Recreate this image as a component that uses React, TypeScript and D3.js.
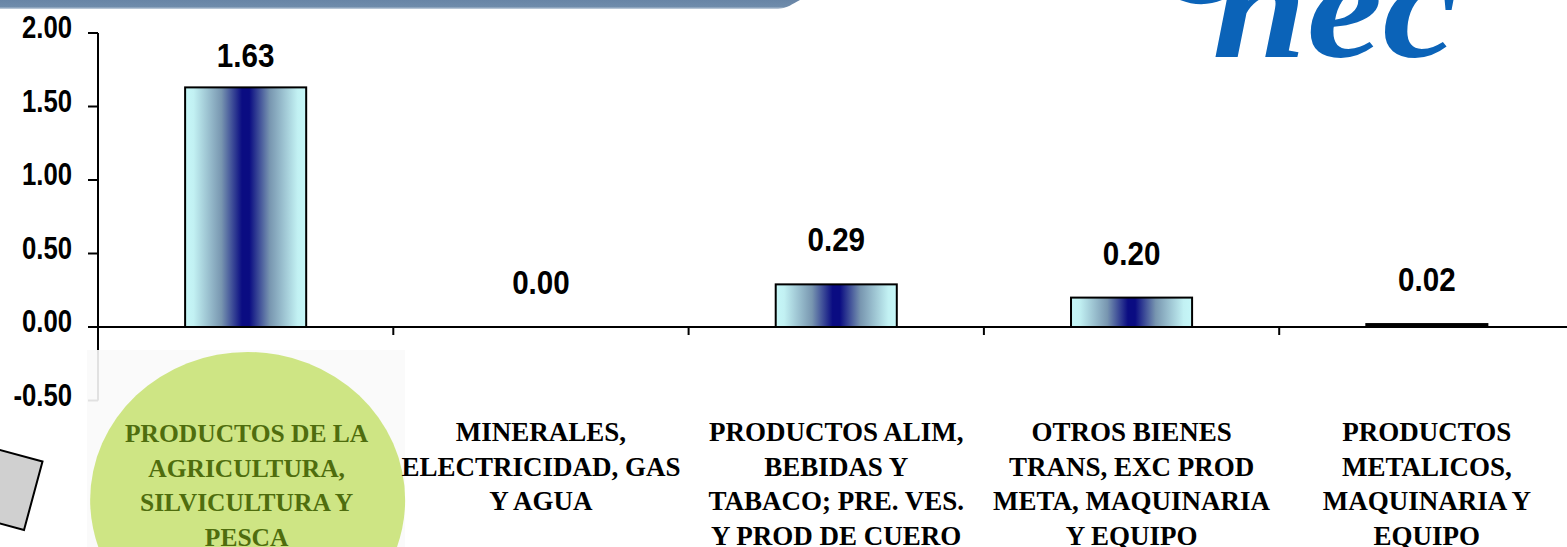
import React from "react";
import * as d3 from "d3";

const categories = [
  "PRODUCTOS DE LA AGRICULTURA, SILVICULTURA Y PESCA",
  "MINERALES, ELECTRICIDAD, GAS Y AGUA",
  "PRODUCTOS ALIM, BEBIDAS Y TABACO; PRE. VES. Y PROD DE CUERO",
  "OTROS BIENES TRANS, EXC PROD META, MAQUINARIA Y EQUIPO",
  "PRODUCTOS METALICOS, MAQUINARIA Y EQUIPO",
];
const values = [1.63, 0.0, 0.29, 0.2, 0.02];
const labelLines = [
  ["PRODUCTOS DE LA", "AGRICULTURA,", "SILVICULTURA Y", "PESCA"],
  ["MINERALES,", "ELECTRICIDAD, GAS", "Y AGUA"],
  ["PRODUCTOS  ALIM,", "BEBIDAS Y", "TABACO; PRE. VES.", "Y PROD DE CUERO"],
  ["OTROS BIENES", "TRANS, EXC PROD", "META, MAQUINARIA", "Y EQUIPO"],
  ["PRODUCTOS", "METALICOS,", "MAQUINARIA Y", "EQUIPO"],
];
const yTicks = [-0.5, 0, 0.5, 1.0, 1.5, 2.0];

const W = 1567;
const H = 547;
const X0 = 98;
const STEP = 295.3;

export default function App() {
  const x = d3
    .scaleBand<string>()
    .domain(categories)
    .range([X0, X0 + STEP * categories.length])
    .paddingInner(0.59)
    .paddingOuter(0.295);
  const y = d3.scaleLinear().domain([-0.5, 2]).range([400.5, 33]);
  const fmt = (v: number) => d3.format(".2f")(v).replace("\u2212", "-");
  const step = x.step();
  const bounds = d3.range(categories.length + 1).map((i) => X0 + i * step);

  const sans = "'Liberation Sans', Arial, sans-serif";
  const serif = "'Liberation Serif', 'Times New Roman', serif";

  return (
    <svg
      width={W}
      height={H}
      style={{ position: "absolute", left: 0, top: 0, background: "#fff" }}
    >
      <defs>
        <linearGradient id="barGrad" x1="0" x2="1" y1="0" y2="0">
          <stop offset="0" stopColor="#c6f7f8" />
          <stop offset="0.07" stopColor="#c2f1f3" />
          <stop offset="0.3" stopColor="#7896b0" />
          <stop offset="0.47" stopColor="#0a0c82" />
          <stop offset="0.53" stopColor="#0a0c82" />
          <stop offset="0.7" stopColor="#7896b0" />
          <stop offset="0.93" stopColor="#c2f1f3" />
          <stop offset="1" stopColor="#c6f7f8" />
        </linearGradient>
        <linearGradient id="banner" x1="0" x2="0" y1="0" y2="1">
          <stop offset="0" stopColor="#6885a6" />
          <stop offset="0.75" stopColor="#6f8cab" />
          <stop offset="1" stopColor="#c9d4e0" />
        </linearGradient>
      </defs>

      {/* top banner */}
      <path d="M0,0 L800,0 C792,4 788,8 778,9 L0,9 Z" fill="url(#banner)" />

      {/* logo */}
      <path d="M1180,0 C1195,6 1210,5 1222,0 Z" fill="#0b63b8" />
      <text
        x={1212}
        y={57}
        fontFamily={serif}
        fontStyle="italic"
        fontWeight="bold"
        fontSize={150}
        fill="#0b63b8"
        textLength={246}
        lengthAdjust="spacingAndGlyphs"
      >
        nec
      </text>

      {/* y axis */}
      <line x1={X0} x2={X0} y1={y(2)} y2={y(-0.5)} stroke="#000" strokeWidth={2} />
      {yTicks.map((t) => (
        <g key={t}>
          <line x1={X0 - 10} x2={X0} y1={y(t)} y2={y(t)} stroke="#000" strokeWidth={2} />
          <text
            transform={`translate(72,${y(t) + 5}) scale(0.83,1)`}
            textAnchor="end"
            fontFamily={sans}
            fontWeight="bold"
            fontSize={31}
            fill="#000"
          >
            {fmt(t)}
          </text>
        </g>
      ))}

      {/* bars */}
      {values.map((v, i) => {
        const c = categories[i];
        const top = y(Math.max(v, 0));
        const h = Math.abs(y(v) - y(0));
        return (
          <rect
            key={c}
            x={x(c)}
            y={top}
            width={x.bandwidth()}
            height={h}
            fill={h < 4 ? "#000" : "url(#barGrad)"}
            stroke="#000"
            strokeWidth={2}
          />
        );
      })}

      {/* x axis */}
      <line x1={X0 - 10} x2={W} y1={y(0)} y2={y(0)} stroke="#000" strokeWidth={2} />
      {bounds.map((b, i) => (
        <line key={i} x1={b} x2={b} y1={y(0)} y2={y(0) + 8} stroke="#000" strokeWidth={2} />
      ))}

      {/* value labels */}
      {values.map((v, i) => {
        const c = categories[i];
        const cx = (x(c) as number) + x.bandwidth() / 2;
        const by = Math.max(y(v) - 33, 67);
        return (
          <text
            key={c}
            transform={`translate(${cx},${by}) scale(0.87,1)`}
            textAnchor="middle"
            fontFamily={sans}
            fontWeight="bold"
            fontSize={34}
            fill="#000"
          >
            {fmt(v)}
          </text>
        );
      })}

      {/* image overlay for first category */}
      <rect x={87} y={350} width={318} height={H - 350} fill="#fafafa" opacity={0.9} />
      <ellipse
        cx={(x(categories[0]) as number) + x.bandwidth() / 2 + 2}
        cy={500}
        rx={157.5}
        ry={148}
        fill="#cee584"
      />

      {/* gray rotated square */}
      <path
        d="M42.5,461.5 L24,530 L-44.5,511.5 L-26,443 Z"
        fill="#d0d0d0"
        stroke="#000"
        strokeWidth={2}
      />

      {/* category labels */}
      {labelLines.map((lines, i) => {
        const c = categories[i];
        const cx = (x(c) as number) + x.bandwidth() / 2;
        const green = i === 0;
        return (
          <text
            key={c}
            textAnchor="middle"
            fontFamily={serif}
            fontWeight="bold"
            fontSize={green ? 25.5 : 27}
            fill={green ? "#4f6d0e" : "#000"}
          >
            {lines.map((ln, j) => (
              <tspan key={j} x={cx + (green ? 1 : 0)} y={(green ? 442 : 441) + j * 34.5}>
                {ln}
              </tspan>
            ))}
          </text>
        );
      })}
    </svg>
  );
}
